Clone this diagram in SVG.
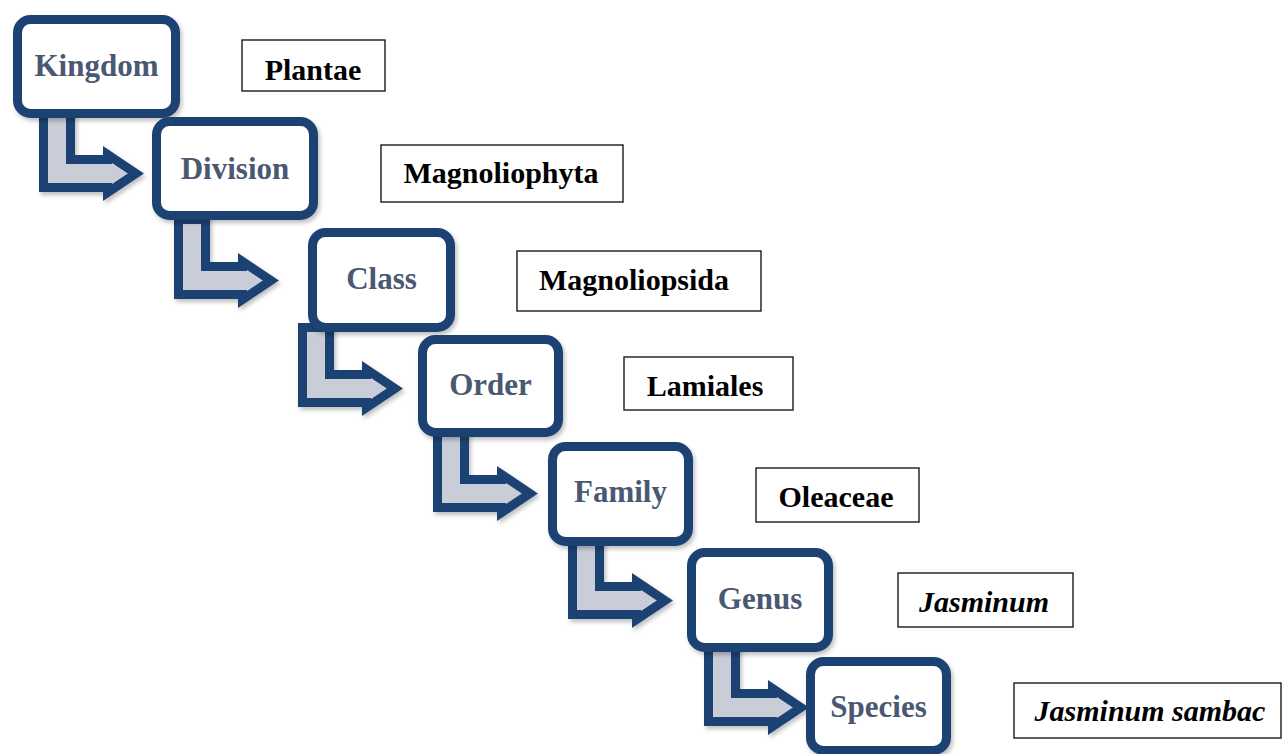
<svg xmlns="http://www.w3.org/2000/svg" width="1282" height="754" viewBox="0 0 1282 754">
<style>
.node rect{fill:#ffffff;stroke:#1f4373;stroke-width:9;filter:url(#sh)}
.node text{font-family:"Liberation Serif","Times New Roman",serif;font-weight:bold;font-size:31px;fill:#4a5872;text-anchor:middle}
.lab rect{fill:#ffffff;stroke:#1a1a1a;stroke-width:1.4}
.lab text{font-family:"Liberation Serif","Times New Roman",serif;font-weight:bold;font-size:30px;fill:#000000;text-anchor:middle}
.lab text.it{font-style:italic}
.arr{fill:#c9cdd8;stroke:#1f4373;stroke-width:9;stroke-linejoin:miter;filter:url(#sh)}
</style>
<defs>
<filter id="sh" x="-20%" y="-20%" width="140%" height="140%">
<feDropShadow dx="2" dy="3" stdDeviation="2" flood-color="#000" flood-opacity="0.25"/>
</filter>
<polygon id="arrow" points="4.5,-42.5 31.5,-42.5 31.5,4.5 68.5,4.5 68.5,-0.6 96.9,18.5 68.5,37.6 68.5,32.5 4.5,32.5"/>
</defs>
<rect width="1282" height="754" fill="#ffffff"/>
<g id="connectors">
<use href="#arrow" class="arr" transform="translate(39,155)"/>
<use href="#arrow" class="arr" transform="translate(174,262)"/>
<use href="#arrow" class="arr" transform="translate(298,370)"/>
<use href="#arrow" class="arr" transform="translate(433,475)"/>
<use href="#arrow" class="arr" transform="translate(568,582)"/>
<use href="#arrow" class="arr" transform="translate(704,689)"/>
</g>
<g id="kingdom" class="node"><rect x="17.5" y="19.5" width="158" height="94" rx="13"/><text x="96.5" y="76">Kingdom</text></g>
<g id="division" class="node"><rect x="156.5" y="121.5" width="157" height="94" rx="13"/><text x="235" y="179">Division</text></g>
<g id="class" class="node"><rect x="312.5" y="232.5" width="138" height="95" rx="13"/><text x="381.5" y="289">Class</text></g>
<g id="order" class="node"><rect x="422.5" y="339.5" width="136" height="93" rx="13"/><text x="490.5" y="395">Order</text></g>
<g id="family" class="node"><rect x="552.5" y="446.5" width="136" height="95" rx="13"/><text x="620.5" y="502">Family</text></g>
<g id="genus" class="node"><rect x="691.5" y="552.5" width="137" height="95" rx="13"/><text x="760" y="609">Genus</text></g>
<g id="species" class="node"><rect x="810.5" y="661.5" width="136" height="89" rx="13"/><text x="878.5" y="717">Species</text></g>
<g id="plantae" class="lab"><rect x="242" y="40" width="143" height="51"/><text x="313" y="80">Plantae</text></g>
<g id="magnoliophyta" class="lab"><rect x="381" y="145" width="242" height="57"/><text x="501" y="183">Magnoliophyta</text></g>
<g id="magnoliopsida" class="lab"><rect x="517" y="251" width="244" height="60"/><text x="634" y="290">Magnoliopsida</text></g>
<g id="lamiales" class="lab"><rect x="624" y="357" width="169" height="53"/><text x="705" y="396">Lamiales</text></g>
<g id="oleaceae" class="lab"><rect x="756" y="468" width="163" height="54"/><text x="836" y="507">Oleaceae</text></g>
<g id="jasminum" class="lab"><rect x="898" y="573" width="175" height="54"/><text class="it" x="984" y="612">Jasminum</text></g>
<g id="jasminum-sambac" class="lab"><rect x="1014" y="683" width="267" height="55"/><text class="it" x="1150" y="721">Jasminum sambac</text></g>
</svg>
